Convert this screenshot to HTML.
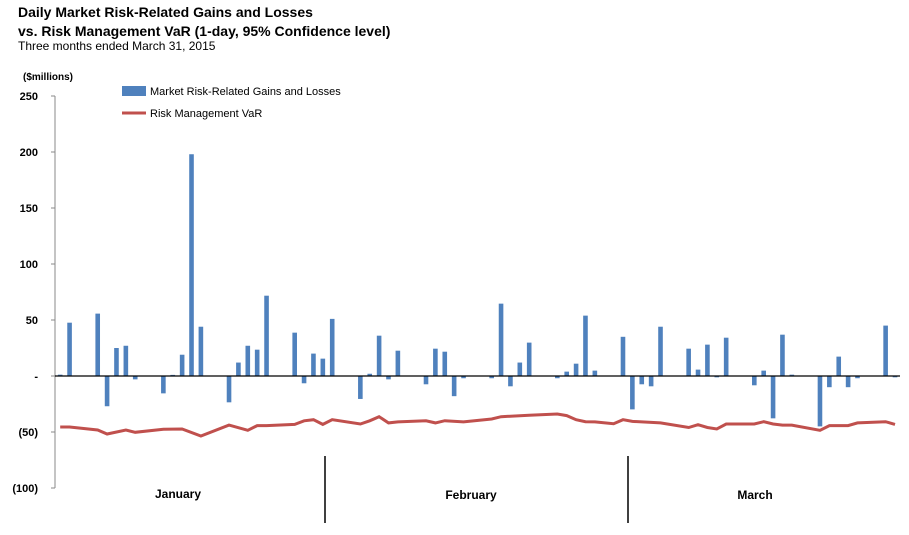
<!DOCTYPE html>
<html><head><meta charset="utf-8"><style>
body{margin:0;background:#fff;font-family:"Liberation Sans",sans-serif;}
svg{display:block}
</style></head><body>
<svg id="chart" width="909" height="535">
<text x="18" y="17" font-size="14" font-weight="bold" fill="#000">Daily Market Risk-Related Gains and Losses</text>
<text x="18" y="36" font-size="14" font-weight="bold" fill="#000">vs. Risk Management VaR (1-day, 95% Confidence level)</text>
<text x="18" y="50" font-size="12" fill="#000">Three months ended  March 31, 2015</text>
<text x="23" y="80" font-size="10" font-weight="bold" fill="#000">($millions)</text>
<g id="yaxis"></g>
<g id="bars"></g>
<path id="varline" fill="none" stroke="#c0504d" stroke-width="3"/>
<line x1="55" y1="376" x2="900" y2="376" stroke="#000" stroke-width="1.3"/>
<rect x="122" y="86" width="24" height="10" fill="#4f81bd"/>
<text x="150" y="95" font-size="11" fill="#000">Market Risk-Related Gains and Losses</text>
<line x1="122" y1="113" x2="146" y2="113" stroke="#c0504d" stroke-width="3"/>
<text x="150" y="117" font-size="11" fill="#000">Risk Management VaR</text>
<line x1="325" y1="456" x2="325" y2="523" stroke="#000" stroke-width="1.5"/>
<line x1="628" y1="456" x2="628" y2="523" stroke="#000" stroke-width="1.5"/>
<text x="178" y="498" font-size="12" font-weight="bold" text-anchor="middle">January</text>
<text x="471" y="499" font-size="12" font-weight="bold" text-anchor="middle">February</text>
<text x="755" y="499" font-size="12" font-weight="bold" text-anchor="middle">March</text>
</svg>
<script>
const yTicks=[250,200,150,100,50,0,-50,-100];
const yTickLabels=["250","200","150","100","50","-","(50)","(100)"];
const barDays=[0,1,4,5,6,7,8,11,12,13,14,15,18,19,20,21,22,25,26,27,28,29,32,33,34,35,36,39,40,41,42,43,46,47,48,49,50,53,54,55,56,57,60,61,62,63,64,67,68,69,70,71,74,75,76,77,78,81,82,83,84,85,88,89];
const barValues=[1.2,47.6,55.7,-27,25,27,-3,-15.5,1,19,198,44,-23.5,12,27,23.5,71.7,38.7,-6.5,20,15.5,51,-20.5,2,36,-3,22.6,-7.4,24.4,21.7,-18,-2,-2,64.6,-9.2,12,29.8,-2,3.9,11,53.9,4.8,35,-29.8,-7.4,-9.2,44,24.4,5.7,28,-1.2,34.2,-8.3,4.8,-37.8,36.9,1.2,-45,-10,17.3,-10,-2,45,-1.2];
const varDays=[0,1,4,5,7,8,11,13,15,18,20,21,22,25,26,27,28,29,32,33,34,35,36,39,40,41,43,46,47,50,53,54,55,56,57,59,60,61,64,67,68,69,70,71,74,75,76,77,78,81,82,84,85,88,89];
const varValues=[45.5,45.5,48.2,51.8,48.2,50.3,47.6,47.3,53.6,43.8,48.5,44.3,44.3,43.2,40,39,43.2,39,42.9,40,36.3,41.9,41,40,41.9,39.9,41,38.4,36.3,35.1,33.9,35.4,39,40.8,41,42.6,39,40.5,41.9,46,43.5,46,47.3,42.9,42.9,40.8,42.9,43.8,43.8,48.5,44.3,44.3,41.9,40.8,43.2];
const NS="http://www.w3.org/2000/svg";
const x0=55.5,slotW=9.38,y0=376,pxPerUnit=1.12;
function xScale(d){return x0+slotW*(d+0.5);}
function yScale(v){return y0-v*pxPerUnit;}
const yg=document.getElementById('yaxis');
const spine=document.createElementNS(NS,'line');
spine.setAttribute('x1',55);spine.setAttribute('x2',55);
spine.setAttribute('y1',yScale(250));spine.setAttribute('y2',yScale(-100));
spine.setAttribute('stroke','#888');


yg.appendChild(spine);
yTicks.forEach((t,i)=>{
  const tk=document.createElementNS(NS,'line');
  tk.setAttribute('x1',51);tk.setAttribute('x2',55);
  tk.setAttribute('y1',yScale(t));tk.setAttribute('y2',yScale(t));
  tk.setAttribute('stroke','#888');
  
  
  yg.appendChild(tk);
  const tx=document.createElementNS(NS,'text');
  tx.setAttribute('x',38);tx.setAttribute('y',yScale(t)+4);
  tx.setAttribute('text-anchor','end');tx.setAttribute('font-size','11');
  tx.setAttribute('font-weight','bold');
  tx.textContent=yTickLabels[i];
  
  
  yg.appendChild(tx);
});
const bg=document.getElementById('bars');
barDays.forEach((d,i)=>{
  const v=barValues[i];
  const r=document.createElementNS(NS,'rect');
  const bw=4.6;
  r.setAttribute('x',xScale(d)-bw/2);
  r.setAttribute('width',bw);
  r.setAttribute('y',Math.min(yScale(v),y0));
  r.setAttribute('height',Math.abs(yScale(v)-y0));
  r.setAttribute('fill','#4f81bd');
  
  
  bg.appendChild(r);
});
let dstr='';
varDays.forEach((d,i)=>{dstr+=(i?'L':'M')+xScale(d).toFixed(1)+' '+yScale(-varValues[i]).toFixed(1);});
document.getElementById('varline').setAttribute('d',dstr);
</script>
</body></html>
